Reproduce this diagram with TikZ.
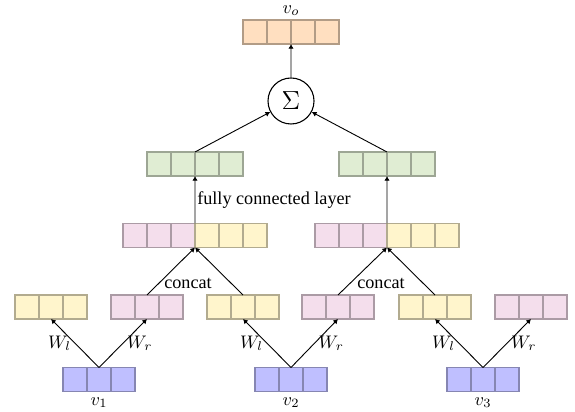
\documentclass[tikz,border=0pt]{standalone}
\usepackage{fontspec}
\setmainfont{Liberation Serif}
\usetikzlibrary{arrows.meta}

\definecolor{cOrange}{HTML}{FFDFC0}
\definecolor{cGreen}{HTML}{E0EDD3}
\definecolor{cPink}{HTML}{F4DEEC}
\definecolor{cYellow}{HTML}{FFF5CC}
\definecolor{cBlue}{HTML}{BFBFFF}

\tikzset{
  cell/.style={draw=#1!70!black, fill=#1, line width=0.7pt,
    minimum width=13.2pt, minimum height=13.2pt, inner sep=0pt, outer sep=0pt},
  link/.style={-{Latex[length=2.6pt,width=3pt]}, line width=0.5pt},
  sumnode/.style={circle, draw, line width=0.6pt, minimum size=25.3pt, inner sep=0pt,
    font=\fontsize{13.5pt}{16pt}\selectfont},
  wlabel/.style={inner sep=2pt},
}

% a row of #4 square cells, named #1-1 ... #1-#4, left edge at x=#2, centred at y=#3
\newcommand\cellrow[5]{%
  \foreach \k in {1,...,#4}{\node[cell=#5] (#1-\k) at ({#2+(\k-0.5)*24},#3) {};}}

\begin{document}
\begin{tikzpicture}[x=0.55pt, y=-0.55pt]
  \path[use as bounding box] (0,0) rectangle (575,412);

  % output vector and sum
  \cellrow{out}{243}{32}{4}{cOrange}
  \node[anchor=south, inner sep=1pt] (vo) at ([yshift=1pt]out-2.north east) {$v_o$};
  \node[sumnode] (sum) at (291,101) {$\Sigma$};

  % fully connected outputs
  \cellrow{gl}{147}{164}{4}{cGreen}
  \cellrow{gr}{339}{164}{4}{cGreen}

  % concatenated vectors
  \cellrow{cpl}{123}{235.5}{3}{cPink}
  \cellrow{cyl}{195}{235.5}{3}{cYellow}
  \cellrow{cpr}{315}{235.5}{3}{cPink}
  \cellrow{cyr}{387}{235.5}{3}{cYellow}

  % transformed children
  \cellrow{ha}{15}{307}{3}{cYellow}
  \cellrow{hb}{111}{307}{3}{cPink}
  \cellrow{hc}{207}{307}{3}{cYellow}
  \cellrow{hd}{302}{307}{3}{cPink}
  \cellrow{he}{399}{307}{3}{cYellow}
  \cellrow{hf}{495}{307}{3}{cPink}

  % input vectors
  \cellrow{va}{63}{379.5}{3}{cBlue}
  \cellrow{vb}{255}{379.5}{3}{cBlue}
  \cellrow{vc}{447}{379.5}{3}{cBlue}
  \node[anchor=north, inner sep=1pt] (v1) at ([yshift=-2pt]va-2.south) {$v_1$};
  \node[anchor=north, inner sep=1pt] (v2) at ([yshift=-2pt]vb-2.south) {$v_2$};
  \node[anchor=north, inner sep=1pt] (v3) at ([yshift=-2pt]vc-2.south) {$v_3$};

  % weight transforms
  \draw[link] (va-2.north) -- node[wlabel, left] {$W_l$} (ha-2.south);
  \draw[link] (va-2.north) -- node[wlabel, right] {$W_r$} (hb-2.south);
  \draw[link] (vb-2.north) -- node[wlabel, left] {$W_l$} (hc-2.south);
  \draw[link] (vb-2.north) -- node[wlabel, right] {$W_r$} (hd-2.south);
  \draw[link] (vc-2.north) -- node[wlabel, left] {$W_l$} (he-2.south);
  \draw[link] (vc-2.north) -- node[wlabel, right] {$W_r$} (hf-2.south);

  % concatenation
  \draw[link] (hb-2.north) -- (cyl-1.south west);
  \draw[link] (hc-2.north) -- (cyl-1.south west);
  \draw[link] (hd-2.north) -- (cyr-1.south west);
  \draw[link] (he-2.north) -- (cyr-1.south west);
  \node (cat1) at (188,283) {concat};
  \node (cat2) at (381,283) {concat};

  % fully connected layers
  \draw[link] (cyl-1.north west) -- node[right, inner sep=1pt] {fully connected layer} (gl-2.south east);
  \draw[link] (cyr-1.north west) -- (gr-2.south east);

  % sum and output
  \draw[link] (gl-2.north east) -- (sum);
  \draw[link] (gr-2.north east) -- (sum);
  \draw[link] (sum) -- (out-2.south east);
\end{tikzpicture}
\end{document}
